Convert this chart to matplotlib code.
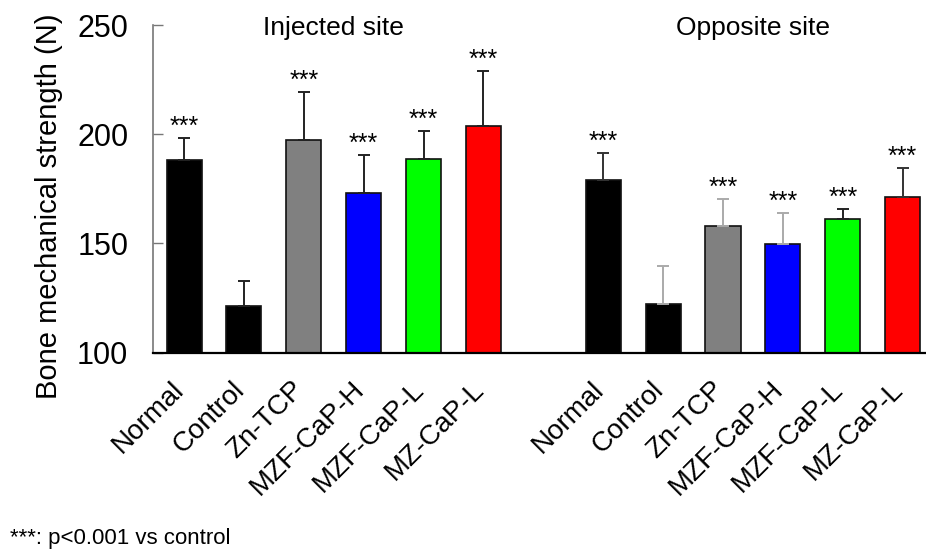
import matplotlib
matplotlib.use("Agg")

import matplotlib.pyplot as plt
import matplotlib.transforms as mtransforms
import numpy as np

plt.rcParams["font.family"] = ["Liberation Sans", "DejaVu Sans"]

groups = ["Injected site", "Opposite site"]
categories = ["Normal", "Control", "Zn-TCP", "MZF-CaP-H", "MZF-CaP-L", "MZ-CaP-L"]
injected_mean = [188.3, 121.4, 197.2, 172.9, 188.7, 203.8]
injected_err = [9.8, 11.4, 22.2, 17.5, 12.6, 25.1]
opposite_mean = [179.1, 122.4, 157.8, 149.6, 161.0, 171.4]
opposite_err = [12.1, 17.3, 12.4, 14.4, 4.9, 13.1]
significant = [True, False, True, True, True, True]

BAR_COLORS = ["#000000", "#000000", "#808080", "#0000ff", "#00ff00", "#ff0000"]
INJ_ERR_COLORS = ["#222222"] * 6
OPP_ERR_COLORS = ["#333333", "#aaaaaa", "#aaaaaa", "#aaaaaa", "#222222", "#333333"]

fig = plt.figure(figsize=(9.26, 5.5), dpi=100)
ax = fig.add_axes([0.1656, 0.3587, 0.8344, 0.5958])

n = len(categories)
x_inj = np.arange(n)
x_opp = np.arange(n) + n + 1

for xs, means, errs, ecols in [
    (x_inj, injected_mean, injected_err, INJ_ERR_COLORS),
    (x_opp, opposite_mean, opposite_err, OPP_ERR_COLORS),
]:
    ax.bar(xs, means, width=0.585, color=BAR_COLORS, edgecolor="#111111",
           linewidth=1.2, zorder=2)
    for xi, m, e, ec, sig in zip(xs, means, errs, ecols, significant):
        _, caps, _ = ax.errorbar(xi, m, yerr=[[0], [e]], fmt="none", ecolor=ec,
                                 elinewidth=1.4, capsize=4, capthick=1.4, zorder=3)
        for c in caps:
            c.set_color("#111111")
        if sig:
            ax.annotate("***", (xi, m + e), xytext=(0, 3), textcoords="offset points",
                        ha="center", va="baseline", fontsize=18, zorder=4)

for label, xs in zip(groups, [x_inj, x_opp]):
    ax.text(xs.mean(), 245.5, label, ha="center", va="baseline", fontsize=19,
            clip_on=False)

ax.set_xlim(-0.513, 12.39)
ax.set_ylim(100, 250)
ax.set_yticks([100, 150, 200, 250])
ax.tick_params(axis="y", direction="in", length=7, width=1, color="#777777",
               labelsize=22, pad=18)
ax.set_xticks(np.concatenate([x_inj, x_opp]))
ax.set_xticklabels(categories + categories, rotation=45, ha="right", fontsize=20)
ax.tick_params(axis="x", length=0, pad=17)
offset = mtransforms.ScaledTranslation(4 / 72, 0, fig.dpi_scale_trans)
for lab in ax.get_xticklabels():
    lab.set_transform(lab.get_transform() + offset)

for side in ["top", "right"]:
    ax.spines[side].set_visible(False)
ax.spines["left"].set_color("#777777")
ax.spines["left"].set_linewidth(1.2)
ax.spines["bottom"].set_color("#000000")
ax.spines["bottom"].set_linewidth(1.6)
ax.spines["bottom"].set_zorder(5)

fig.text(49 / 926, 1 - 206 / 550, "Bone mechanical strength (N)", rotation=90,
         ha="center", va="center", fontsize=21)
fig.text(10 / 926, 6 / 550, "***: p<0.001 vs control", ha="left", va="baseline",
         fontsize=16)

fig.savefig("out.png", dpi=100)
